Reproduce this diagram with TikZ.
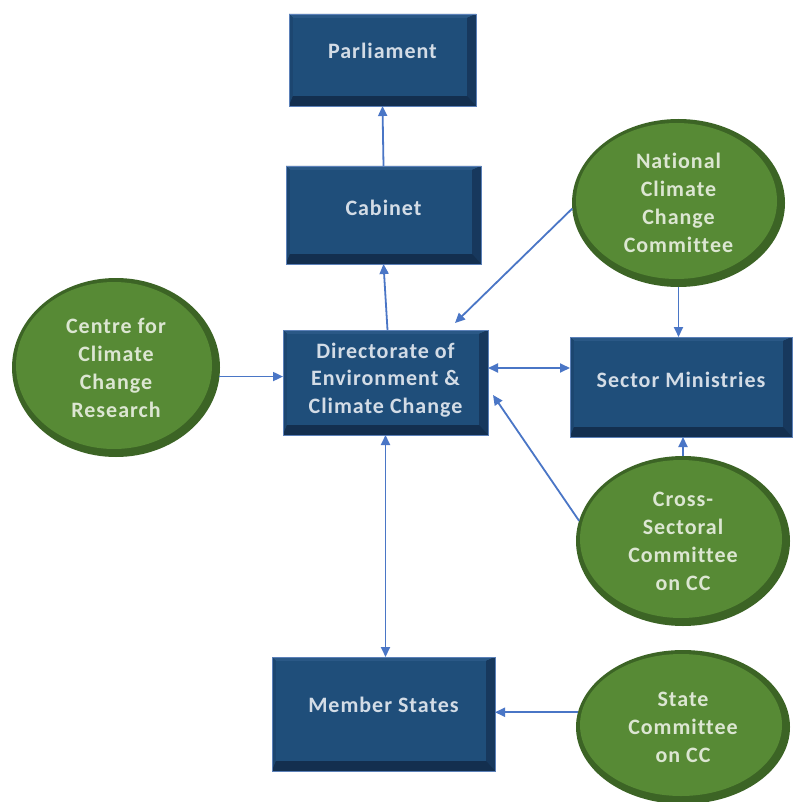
\documentclass[tikz,border=0pt]{standalone}
\usepackage{fontspec}
\setmainfont{Carlito}[LetterSpace=4.5,RawFeature=-liga]
\usetikzlibrary{arrows.meta,calc,shapes.geometric}
\definecolor{face}{HTML}{1F4E7A}
\definecolor{bevtop}{HTML}{2A5886}
\definecolor{bevleft}{HTML}{1C4670}
\definecolor{bevright}{HTML}{17385D}
\definecolor{bevbot}{HTML}{132F4F}
\definecolor{edgeblue}{HTML}{5B80B8}
\definecolor{boxtxt}{HTML}{D3DCE6}
\definecolor{gface}{HTML}{578A35}
\definecolor{gring}{HTML}{3C6425}
\definecolor{gtxt}{HTML}{DCE6D2}
\definecolor{lineblue}{HTML}{4A76C6}
\tikzset{
  bevbox/.style={rectangle, draw=edgeblue, line width=0.5pt, fill=bevbot, inner sep=0pt, outer sep=0pt,
    path picture={
      \path (path picture bounding box.north west) coordinate (A)
            (path picture bounding box.north east) coordinate (B)
            (path picture bounding box.south east) coordinate (C)
            (path picture bounding box.south west) coordinate (D);
      \coordinate (a) at ($(A)+(4pt,-4pt)$);
      \coordinate (b) at ($(B)+(-9pt,-4pt)$);
      \coordinate (c) at ($(C)+(-9pt,10pt)$);
      \coordinate (d) at ($(D)+(4pt,10pt)$);
      \fill[bevtop] (A)--(B)--(b)--(a)--cycle;
      \fill[bevleft] (A)--(a)--(d)--(D)--cycle;
      \fill[bevright] (B)--(C)--(c)--(b)--cycle;
      \fill[bevbot] (D)--(d)--(c)--(C)--cycle;
      \fill[face] (a) rectangle (c);
    }},
  boxtext/.style={text=boxtxt, align=center, inner sep=0pt, font=\bfseries\fontsize{22}{27.5}\selectfont},
  gell/.style={ellipse, fill=gring, inner sep=0pt, outer sep=0pt, text=gtxt, align=center,
    font=\bfseries\fontsize{22}{28}\selectfont,
    path picture={
      \path let \p1=(path picture bounding box.north east), \p2=(path picture bounding box.center) in
        [fill=gface] ($(\p2)+(-2pt,2pt)$) ellipse [x radius={\x1-\x2-6pt}, y radius={\y1-\y2-6pt}];
    }},
  arr/.style={draw=lineblue, line width=1.8pt, -{Triangle[length=10pt,width=9pt]}},
  darr/.style={draw=lineblue, line width=1.8pt, {Triangle[length=10pt,width=9pt]}-{Triangle[length=10pt,width=9pt]}}
}
\newcommand\bevnode[7]{%
  \node[bevbox, minimum width=#4pt, minimum height=#5pt] (#1) at (#2,-#3) {};
  \node[boxtext] (#1-t) at ($(#1.center)+(0,#6)$) {#7};
}
\begin{document}
\begin{tikzpicture}[x=1pt,y=1pt]
\useasboundingbox (0,0) rectangle (792,-802);
\fill[white] (0,0) rectangle (792,-802);

\bevnode{par}{382.5}{60}{187}{92}{9.5}{Parliament}
\bevnode{cab}{383.5}{215}{195}{98}{7.5}{Cabinet}
\bevnode{dir}{385.5}{382.5}{205}{105}{2.5}{Directorate of\\Environment \&\\Climate Change}
\bevnode{sec}{681}{387}{222}{100}{7}{Sector Ministries}
\bevnode{mem}{383.5}{714}{223}{114}{9}{Member States}

\node[gell, minimum width=208pt, minimum height=179pt] (ccr) at (116,-367.5) {Centre for\\Climate\\Change\\Research};
\node[gell, minimum width=213pt, minimum height=168pt] (nccc) at (678.5,-203) {National\\Climate\\Change\\Committee};
\node[gell, minimum width=214pt, minimum height=170pt] (csc) at (683,-541) {Cross-\\Sectoral\\Committee\\on CC};
\node[gell, minimum width=214pt, minimum height=154pt] (scc) at (683,-727) {State\\Committee\\on CC};

\draw[arr] (cab.north) -- (par.south);
\draw[arr] ([xshift=2pt]dir.north) -- (cab.south);
\draw[arr] (ccr.-5) -- (ccr.-5 -| dir.west);
\coordinate (dirR) at ($(dir.east)+(0,14.5)$);
\draw[darr] (dirR) -- (dirR -| sec.west);
\coordinate (dirT) at ($(dir.north east)+(-33,7)$);
\draw[arr] (nccc.183) -- (dirT);
\coordinate (dirE) at ($(dir.east)+(5,-12.5)$);
\draw[arr] (csc.169) -- (dirE);
\draw[arr] (nccc.south) -- (nccc.south |- sec.north);
\draw[arr] (csc.north) -- (csc.north |- sec.south);
\draw[darr] (dir.south) -- (dir.south |- mem.north);
\draw[arr] (scc.172) -- (scc.172 -| mem.east);
\end{tikzpicture}
\end{document}
